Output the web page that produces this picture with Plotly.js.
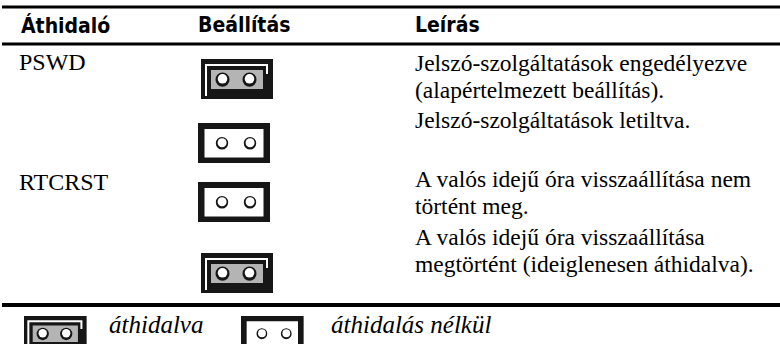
<!DOCTYPE html>
<html>
<head>
<meta charset="utf-8">
<script src="https://cdn.plot.ly/plotly-3.0.1.min.js"></script>
<style>
html,body{margin:0;padding:0;background:#fff;}
#chart{width:780px;height:344px;}
</style>
</head>
<body>
<div id="chart"></div>
<script>
// ---- data ----
const headers = ['Áthidaló', 'Beállítás', 'Leírás'];
const jumperNames = ['PSWD', '', 'RTCRST', ''];
const settings = ['jumpered', 'open', 'open', 'jumpered'];
const descriptions = [
  ['Jelszó-szolgáltatások engedélyezve', '(alapértelmezett beállítás).'],
  ['Jelszó-szolgáltatások letiltva.'],
  ['A valós idejű óra visszaállítása nem', 'történt meg.'],
  ['A valós idejű óra visszaállítása', 'megtörtént (ideiglenesen áthidalva).']
];
const legendStates = ['jumpered', 'open'];
const legendLabels = ['áthidalva', 'áthidalás nélkül'];

// ---- layout constants ----
const W = 780, H = 344;
const colX = [18, 197, 414];
const headerBaseline = 32;
const nameBaseline = [70, 128, 190, 245];
const descBaseline = [71, 128, 187, 245];
const lineGap = 26.5;
const jumperTop = [59, 123, 182, 253];
const jumperW = 72, jumperH = 40;
const ruleY = [{y: 7, w: 3}, {y: 44, w: 3}, {y: 305, w: 4}];
const legendIconX = [24, 241];
const legendIconTop = 316;
const legendScale = 0.87;
const legendTextX = [108, 330];
const legendBaseline = 332;

const serif = 'Liberation Serif, Times New Roman, serif';
const condensed = 'DejaVu Sans Condensed, Liberation Sans Narrow, sans-serif';

const shapes = [];
const annotations = [];

function rule(y, w) {
  shapes.push({type: 'line', xref: 'x', yref: 'y', x0: 2, x1: W, y0: y, y1: y,
    line: {color: '#000', width: w}});
}
ruleY.forEach(r => rule(r.y, r.w));

function text(str, x, baseline, size, opts) {
  opts = opts || {};
  annotations.push({
    text: str, x: x, y: baseline - size * 0.32, xref: 'x', yref: 'y',
    xanchor: 'left', yanchor: 'middle', showarrow: false,
    font: Object.assign({family: serif, size: size, color: '#000'}, opts.font || {}),
    borderpad: 0
  });
}

function jumper(state, x0, y0, s) {
  const black = '#161616';
  const w = jumperW * s, h = jumperH * s;
  const X = v => x0 + v * s, Y = v => y0 + v * s;
  if (state === 'jumpered') {
    shapes.push({type: 'rect', x0: x0, x1: x0 + w, y0: y0, y1: y0 + h,
      fillcolor: black, line: {width: 0}});
    shapes.push({type: 'path',
      path: `M ${X(5)} ${Y(37)} L ${X(5)} ${Y(6)} L ${X(66)} ${Y(6)} L ${X(66)} ${Y(15)}`,
      line: {color: '#fff', width: 2}});
    shapes.push({type: 'rect', x0: X(10), x1: X(62), y0: Y(11), y1: Y(30),
      fillcolor: '#b4b4b4', line: {width: 0}});
    [21.5, 48.5].forEach(c => {
      shapes.push({type: 'circle', x0: X(c - 7), x1: X(c + 7), y0: Y(13.5), y1: Y(27.8),
        fillcolor: black, line: {width: 0}});
      shapes.push({type: 'circle', x0: X(c - 4.8), x1: X(c + 4.8), y0: Y(15), y1: Y(24.6),
        fillcolor: '#fff', line: {width: 0}});
    });
  } else {
    shapes.push({type: 'rect', x0: x0, x1: x0 + w, y0: y0, y1: y0 + h,
      fillcolor: black, line: {width: 0}});
    shapes.push({type: 'rect', x0: X(6.5), x1: X(72 - 6.5), y0: Y(6), y1: Y(34.5),
      fillcolor: '#fff', line: {width: 0}});
    [24, 52].forEach(c => {
      shapes.push({type: 'circle', x0: X(c - 6.2), x1: X(c + 6.2), y0: Y(14), y1: Y(26.6),
        fillcolor: black, line: {width: 0}});
      shapes.push({type: 'circle', x0: X(c - 4.4), x1: X(c + 4.6), y0: Y(15.3), y1: Y(24.3),
        fillcolor: '#fff', line: {width: 0}});
    });
  }
}

// header
headers.forEach((h, i) => text(h, colX[i] + (i === 0 ? 2 : 0), headerBaseline, 21,
  {font: {family: condensed, weight: 700, color: '#000'}}));

// rows
jumperNames.forEach((name, i) => {
  if (name) text(name, colX[0], nameBaseline[i], 24);
  const jx = settings[i] === 'jumpered' ? 201 : 198;
  jumper(settings[i], jx, jumperTop[i], 1);
  descriptions[i].forEach((line, k) => text(line, colX[2], descBaseline[i] + k * lineGap, 23.5));
});

// legend
legendStates.forEach((s, i) => {
  jumper(s, legendIconX[i], legendIconTop, legendScale);
  text(legendLabels[i], legendTextX[i], legendBaseline, 25, {font: {style: 'italic'}});
});

const layout = {
  width: W, height: H,
  margin: {l: 0, r: 0, t: 0, b: 0},
  paper_bgcolor: '#fff', plot_bgcolor: '#fff',
  xaxis: {range: [0, W], visible: false, fixedrange: true},
  yaxis: {range: [H, 0], visible: false, fixedrange: true},
  showlegend: false,
  shapes: shapes,
  annotations: annotations
};

Plotly.newPlot('chart', [{x: [], y: [], type: 'scatter'}], layout, {staticPlot: true, displayModeBar: false});
</script>
</body>
</html>
